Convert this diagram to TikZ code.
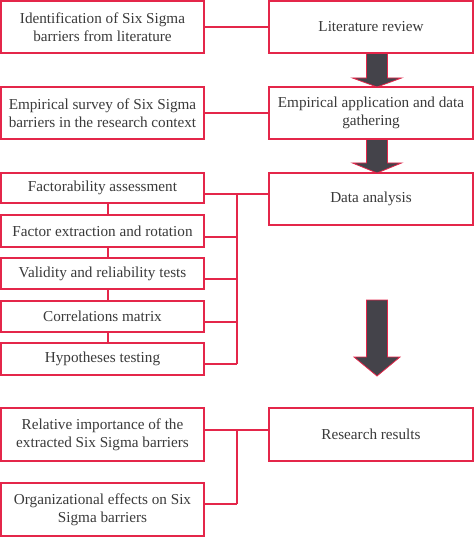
\documentclass[tikz,border=0pt]{standalone}
\usepackage{fontspec}
\newfontfamily\tnr{Liberation Serif}
\definecolor{boxred}{RGB}{228,38,74}
\definecolor{arrgray}{RGB}{68,67,74}
\definecolor{txtgray}{RGB}{58,58,58}
\begin{document}
\begin{tikzpicture}[x=1pt,y=1pt,
  box/.style={draw=boxred, line width=1.4pt, fill=white, inner sep=0pt, align=center,
    text=txtgray, font=\tnr\fontsize{15.2}{18}\selectfont},
  lbox/.style={box, minimum width=203pt},
  rbox/.style={box, minimum width=204pt},
  conn/.style={draw=boxred, line width=1.4pt},
  fatarr/.style={fill=arrgray, draw=boxred, line width=0.8pt, line join=miter}]
\useasboundingbox (0,0) rectangle (474,-537);
% nodes
\node[lbox, minimum height=52pt] (id) at (102.5,-27) {Identification of Six Sigma\\barriers from literature};
\node[rbox, minimum height=52pt] (lit) at (371,-27) {Literature review};
\node[lbox, minimum height=52pt] (surv) at (102.5,-113) {Empirical survey of Six Sigma\\barriers in the research context};
\node[rbox, minimum height=52pt] (emp) at (371,-113) {Empirical application and data\\gathering};
\node[lbox, minimum height=30pt] (fac) at (102.5,-188) {Factorability assessment};
\node[rbox, minimum height=52pt] (dat) at (371,-199) {Data analysis};
\node[lbox, minimum height=32pt] (fx) at (102.5,-231) {Factor extraction and rotation};
\node[lbox, minimum height=31pt] (val) at (102.5,-273.5) {Validity and reliability tests};
\node[lbox, minimum height=31pt] (cor) at (102.5,-316.5) {Correlations matrix};
\node[lbox, minimum height=32pt] (hyp) at (102.5,-359) {Hypotheses testing};
\node[lbox, minimum height=53pt] (rel) at (102.5,-434.5) {Relative importance of the\\extracted Six Sigma barriers};
\node[rbox, minimum height=53pt] (res) at (371,-434.5) {Research results};
\node[lbox, minimum height=53pt] (org) at (102.5,-509.5) {Organizational effects on Six\\Sigma barriers};
% helper coordinates
\coordinate (v) at (108,0);
\coordinate (b) at (237,0);
\coordinate (facc) at ([yshift=-6pt]fac.east);
\coordinate (datc) at ([yshift=5pt]dat.west);
\coordinate (fxc) at ([yshift=-6pt]fx.east);
\coordinate (valc) at ([yshift=-5.5pt]val.east);
\coordinate (corc) at ([yshift=-5.5pt]cor.east);
\coordinate (hypc) at ([yshift=-5pt]hyp.east);
\coordinate (relc) at ([yshift=4.5pt]rel.east);
\coordinate (resc) at ([yshift=4.5pt]res.west);
\coordinate (orgc) at ([yshift=5.5pt]org.east);
% connectors
\draw[conn] (id.east) -- (lit.west);
\draw[conn] (surv.east) -- (emp.west);
\draw[conn] (facc) -- (datc);
\draw[conn] (facc -| b) -- (hypc -| b);
\draw[conn] (fxc) -- (fxc -| b);
\draw[conn] (valc) -- (valc -| b);
\draw[conn] (corc) -- (corc -| b);
\draw[conn] (hypc) -- (hypc -| b);
\draw[conn] (fac.south -| v) -- (fx.north -| v);
\draw[conn] (fx.south -| v) -- (val.north -| v);
\draw[conn] (val.south -| v) -- (cor.north -| v);
\draw[conn] (cor.south -| v) -- (hyp.north -| v);
\draw[conn] (relc) -- (resc);
\draw[conn] (relc -| b) -- (orgc -| b);
\draw[conn] (orgc) -- (orgc -| b);
% big arrows
\draw[fatarr] (366.5,-53.5) -- (366.5,-78) -- (352.5,-78) -- (377,-87) -- (401.5,-78) -- (387.5,-78) -- (387.5,-53.5) -- cycle;
\draw[fatarr] (366.5,-139.5) -- (366.5,-163) -- (352.5,-163) -- (377,-173) -- (401.5,-163) -- (387.5,-163) -- (387.5,-139.5) -- cycle;
\draw[fatarr] (366.5,-300) -- (366.5,-357) -- (354,-357) -- (377,-376) -- (400,-357) -- (387.5,-357) -- (387.5,-300) -- cycle;
\end{tikzpicture}
\end{document}
